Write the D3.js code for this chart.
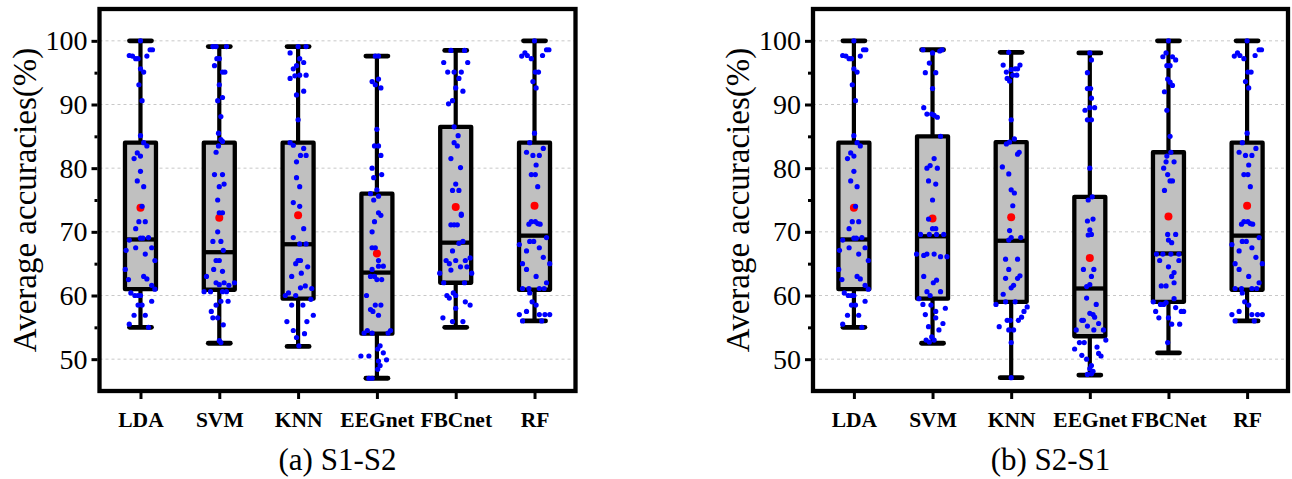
<!DOCTYPE html>
<html>
<head>
<meta charset="utf-8">
<script src="https://cdn.jsdelivr.net/npm/d3@7"></script>
<style>
  html, body { margin: 0; padding: 0; background: #fff; }
  svg { display: block; }
</style>
</head>
<body>
<svg id="chart" width="1292" height="479"></svg>
<script>
// ---------------- DATA ----------------
const catsA = ["LDA", "SVM", "KNN", "EEGnet", "FBCnet", "RF"];
const catsB = ["LDA", "SVM", "KNN", "EEGnet", "FBCNet", "RF"];
const yTicks = [50, 60, 70, 80, 90, 100];
const captionA = "(a) S1-S2";
const captionB = "(b) S2-S1";
const yTitle = "Average accuracies(%)";

// S1-S2 box statistics
const minA    = [55, 52.5, 52, 47, 55, 56];
const q1A     = [61, 60.9, 59.5, 54, 62, 60.9];
const medA    = [68.8, 66.8, 68.05, 63.6, 68.3, 69.4];
const q3A     = [84, 84, 84, 76, 86.5, 84];
const maxA    = [100, 99.1, 99.1, 97.6, 98.5, 100];
const meanA   = [73.8, 72.2, 72.6, 66.6, 73.9, 74.1];

// S2-S1 box statistics
const minB    = [55, 52.5, 47.1, 47.5, 51, 56];
const q1B     = [61, 59.5, 59, 53.6, 59, 60.9];
const medB    = [68.8, 69.3, 68.6, 61.1, 66.6, 69.4];
const q3B     = [84, 85, 84.1, 75.5, 82.5, 84];
const maxB    = [100, 98.6, 98.2, 98.1, 100, 100];
const meanB   = [73.8, 72.1, 72.3, 65.9, 72.4, 74.1];

// individual subject accuracies: [value, jitter (-1..1 of box half-width)]
const ptsA_LDA = [[100,0],[97.7,-0.7],[97.6,-0.5],[97.2,-0.3],[97.2,-0.15],[97.6,0.4],[98.6,0.6],[98.6,0.75],[95.6,0],[95.1,0.2],[93.1,-0.1],[90.6,0.1],[85.1,0],[84,0.2],[83.5,0.4],[82.4,-0.2],[81.9,0],[81.5,-0.4],[79.5,0],[78,-0.2],[77.1,0.2],[74,0.1],[71.6,-0.1],[71.6,0.3],[70.5,-0.3],[68.7,-0.7],[69,0],[69,0.15],[69.1,0.5],[67.5,-0.3],[67.5,0.7],[67.1,-0.9],[66.5,0.3],[65.5,0.9],[64.1,-0.95],[63,0.2],[62.6,0.4],[62.5,-0.75],[61.6,0.7],[61,0.9],[60.4,-0.6],[60,-0.35],[60,-0.15],[60,0],[59.1,0.7],[58.5,-0.15],[58.5,0.1],[56.9,-0.4],[56.9,0.3],[55.5,-0.7],[55,0.5]];
const ptsA_SVM = [[99.1,-0.4],[99.1,-0.2],[99.1,0.45],[97.2,-0.15],[97.2,0],[96.1,-0.3],[95.1,0.2],[95.1,0.35],[93.1,0],[90.6,-0.1],[91.1,0.2],[88.1,0.1],[85.5,-0.05],[84.5,0.1],[84.2,0.2],[83.5,-0.05],[82.5,-0.2],[79,-0.3],[79,0.2],[77.5,0.3],[77.1,0],[75,-0.1],[73,0],[73,0.2],[70,-0.1],[68.5,-0.4],[68.5,0.1],[67.1,0.25],[65.5,-0.2],[65.5,0],[64.1,-0.35],[63,-0.8],[63.8,0.2],[62,-0.2],[61.7,0],[62,0.3],[61.6,0.6],[62,0.95],[60.6,-0.95],[60.6,-0.55],[60.6,0.2],[60.6,0.45],[59.1,0.55],[59.1,0.1],[58.5,-0.2],[57.5,-0.5],[56.5,-0.4],[56.5,-0.1],[55.4,0.25],[52.9,0],[52.6,0.1]];
const ptsA_KNN = [[99.1,0],[99.1,0.5],[98.1,-0.5],[97.2,0.1],[96.6,0.35],[96.1,-0.1],[95.6,-0.3],[94.5,-0.2],[94.1,-0.5],[94.6,0.1],[94.6,0.5],[91.5,-0.1],[92.1,0.35],[87.6,0],[84,-0.5],[83.6,-0.3],[83.1,0.35],[82,0.15],[82,0.5],[81,-0.1],[78.5,-0.1],[77.1,0.1],[74.6,-0.3],[74,0.1],[70.5,0.35],[69.1,-0.3],[68.1,0.1],[68.1,0.5],[65.5,0],[65.5,0.15],[65,-0.15],[64.5,0.6],[63,-0.4],[63.5,0.2],[61.5,0.45],[61.1,0.85],[61.2,0.15],[60.4,-0.6],[60,-0.8],[60,-0.15],[59.4,0.8],[58.5,-0.4],[58.5,0.3],[56.9,0.95],[55.9,-0.7],[55.9,0.55],[54.5,-0.3],[54,0.4],[53.4,-0.1],[52.1,0.05]];
const ptsA_EEG = [[97.6,-0.1],[97.6,0.1],[93.6,-0.3],[94,0.1],[93.1,-0.1],[92.6,0.25],[86.1,0],[83.5,-0.15],[83.5,0.1],[82,0.25],[80,-0.3],[79,0.3],[78.5,-0.2],[76.6,0],[76,-0.4],[75.6,0.1],[75,-0.2],[73,0.1],[72.6,0.25],[71.6,-0.15],[70,-0.3],[67.5,-0.3],[67.5,-0.1],[65.5,0.1],[64.6,0.4],[64.6,0.1],[64.1,-0.3],[63,-0.4],[63,-0.15],[62.5,0.3],[62.5,0],[60,-0.65],[58.5,-0.1],[58.5,0.25],[57.8,-0.4],[57.5,-0.25],[56.9,0.1],[54.5,-0.6],[54.1,-0.8],[54.5,0.85],[54.1,0.7],[54.1,-0.3],[52.1,0.2],[51.6,0.05],[51,0.4],[50.5,-1],[50.5,-0.5],[49.9,0.6],[49.7,0.1],[49,0.2],[48.4,0.05],[47,-0.3],[47,-0.5]];
const ptsA_FBC = [[98.5,-0.3],[98.5,0.55],[96.6,-0.75],[96.6,0.75],[95.1,-0.5],[95.1,-0.1],[95.1,0.35],[94.1,0.2],[92.6,0],[92.1,0.45],[90.1,-0.45],[90.6,-0.2],[86.5,-0.1],[85.1,0.15],[84,-0.1],[83.5,0.1],[81.5,-0.3],[80.1,0.3],[77.5,0],[76.5,-0.2],[76.5,0.2],[72.8,0.35],[72.6,0.35],[71.1,-0.3],[71.1,-0.1],[71.1,0.1],[68.5,0.45],[68.2,0.2],[67,-0.2],[65.5,-0.6],[65.5,0],[65.5,0.6],[65.9,0.9],[65,-0.4],[64.5,0.3],[64.5,0.7],[64,-0.3],[63.5,-1],[63.5,1],[62,-0.75],[62,0.55],[60,0],[60,-0.55],[59.6,-0.4],[60.4,-0.15],[59,0.6],[58.5,0.9],[58,0],[56.5,-0.8],[55.9,-0.2],[55.9,0.45]];
const ptsA_RF = [[100,0],[97.6,-0.8],[98.1,-0.6],[97.7,-0.45],[97.2,-0.2],[97.7,0.5],[98.6,0.75],[98.6,0.9],[95.1,0.05],[95.1,0.25],[93.6,-0.1],[92.6,0.1],[85.5,0],[84,-0.3],[82.5,-0.5],[82,-0.1],[82,0.3],[83.1,0.55],[80.5,0.1],[79,-0.2],[79,0.05],[77.1,0.2],[71.6,-0.2],[71.6,0.05],[71.3,0.2],[71.2,-0.35],[71.2,0.35],[68.5,-0.3],[68.5,-0.05],[68,-0.95],[69.1,0.75],[67.5,0.3],[67,-0.5],[66,0.55],[65,-0.75],[65,0.95],[64.1,-0.5],[63,0.1],[62,0.75],[61.1,-0.75],[61.1,-0.35],[61.1,0.3],[61.1,0.6],[60.4,-0.3],[59,-0.15],[58.5,0.1],[57.5,-0.5],[57,-0.95],[57,0.3],[57,0.65],[57,0.95],[56,-0.75],[56,0.45]];

const ptsB_LDA = ptsA_LDA;
const ptsB_SVM = [[98.6,-0.6],[98.1,0],[98.4,0.45],[98.6,0.6],[96.5,-0.2],[95,-0.45],[95,0.2],[92.5,0],[89.5,-0.55],[88.5,-0.35],[88.5,-0.05],[88.3,0.1],[88,0.3],[85,0.5],[81.5,0.1],[80,-0.35],[80.4,-0.15],[80,0.3],[78,-0.25],[77.5,0.2],[75,0],[72,-0.25],[70.5,0],[70.5,0.2],[69.6,-0.75],[69.6,-0.2],[69.6,0.25],[69.6,0.7],[66.5,-1],[66.3,-0.55],[66.5,-0.35],[66.5,0.1],[66.1,0.5],[66.1,0.9],[63,-0.55],[62,0.05],[62.4,0.25],[60.6,-0.35],[60,-0.15],[60.6,0.5],[59.5,-0.85],[58.6,-0.6],[58.5,-0.1],[57.5,0.2],[58,0.8],[57,-0.45],[56.5,0.2],[55.6,0.65],[55.1,-0.25],[54.6,0.4],[53.5,-0.05],[53,-0.4],[52.7,-0.2],[53,0.1]];
const ptsB_KNN = [[98.2,-0.15],[96.2,-0.5],[95.5,0],[95.6,0.25],[96.2,0.55],[95.6,0.4],[95.1,-0.3],[94.6,0.1],[94.6,0.35],[94.1,-0.25],[93.7,-0.1],[87.6,0],[83.8,-0.3],[84.1,-0.1],[84.6,0.2],[82.2,0.4],[82.5,0.5],[80.2,-0.55],[79.1,-0.15],[76.6,0],[76.1,0.2],[74.1,0.1],[70.2,-0.1],[69.1,0],[68.7,-0.15],[69.1,0.6],[65.7,-0.35],[65.7,0.4],[64.1,-0.15],[62.7,-0.35],[63.1,0.55],[62.7,0.4],[61.6,0.15],[61.2,0],[60.2,-0.5],[58.6,-0.95],[59,-0.35],[59,0.25],[58.2,1],[57.5,0.8],[56.6,0.65],[56.1,0.45],[56.1,-0.25],[56.1,-0.05],[55.1,-0.75],[54.6,-0.15],[54.6,0.15],[52.6,0],[47.1,0]];
const ptsB_EEG = [[98.1,0],[97,0.1],[95,-0.15],[92.5,-0.15],[92.5,0.05],[91,0.1],[89.1,-0.3],[89.5,0],[89.5,0.3],[87.6,-0.15],[87.6,0.1],[80,0],[75,-0.1],[75.5,0.15],[71.7,-0.15],[72,0.2],[70.3,0],[69.5,-0.1],[69.6,0.1],[64.1,-0.4],[64.1,0.25],[63,0.1],[61.7,0],[61.4,-0.2],[58.6,0.4],[59.6,-0.2],[57.2,0],[57,0.2],[56.6,0.3],[56.1,-0.4],[56.1,-0.5],[55.6,0.55],[55.2,-0.15],[54.6,-0.85],[54.6,0.25],[54.6,0.85],[53,1],[52.6,-0.65],[52.6,-0.35],[51.9,0.45],[51.6,-0.95],[50.6,-0.5],[50.9,0.55],[50.5,0.7],[50,-0.2],[49,0.1],[48.5,0],[48.1,0.2],[47.6,-0.15],[47.7,0.1]];
const ptsB_FBC = [[100,0],[97.5,-0.35],[98.1,-0.15],[97.5,0.25],[97,0.45],[96.1,-0.1],[96.1,0.1],[94,-0.05],[93.5,0.1],[93,0.25],[92,-0.25],[89.1,-0.1],[85,0.1],[82.5,0.15],[81.9,-0.1],[81,-0.15],[81,0.35],[80,-0.3],[79,-0.05],[78,0.1],[78,0.25],[76.5,-0.25],[69.6,-0.05],[69.6,0.45],[68.7,0],[68.3,0.2],[66.5,-0.75],[66.5,-0.35],[66.5,0.15],[66.5,0.65],[65.5,-0.55],[65.5,0.65],[64.5,0],[63.6,0.35],[63,0.2],[62,0.35],[61.5,-0.45],[61.5,-0.15],[59.5,0.35],[59,-0.95],[58.6,-0.5],[58.6,-0.3],[58.9,-0.15],[58.1,0.45],[57.5,0.8],[57.5,0.95],[57.5,-0.8],[56.5,-0.6],[56.5,0],[55.5,0.2],[55.5,0.7],[52.6,-0.05]];
const ptsB_RF = ptsA_RF;

// ---------------- DRAW ----------------
const svg = d3.select("#chart");
svg.append("rect").attr("width", 1292).attr("height", 479).attr("fill", "#fff");

const serif = "Liberation Serif, Times New Roman, DejaVu Serif, serif";

const panels = [
  { cats: catsA, min: minA, q1: q1A, med: medA, q3: q3A, max: maxA, mean: meanA,
    pts: [ptsA_LDA, ptsA_SVM, ptsA_KNN, ptsA_EEG, ptsA_FBC, ptsA_RF],
    caption: captionA, x0: 99.5, x1: 575.5 },
  { cats: catsB, min: minB, q1: q1B, med: medB, q3: q3B, max: maxB, mean: meanB,
    pts: [ptsB_LDA, ptsB_SVM, ptsB_KNN, ptsB_EEG, ptsB_FBC, ptsB_RF],
    caption: captionB, x0: 813, x1: 1288 }
];

const plotTop = 9, plotBottom = 391;
const y = d3.scaleLinear().domain([45, 105]).range([plotBottom, plotTop]);
const jit = d3.scaleLinear().domain([-1, 1]).range([-16, 16]);
const boxHalf = 15.5, capHalf = 11;

panels.forEach(p => {
  const g = svg.append("g");
  const x = d3.scalePoint().domain(p.cats).range([p.x0, p.x1]).padding(0.52);

  // grid
  g.append("g").selectAll("line").data(yTicks).join("line")
    .attr("x1", p.x0).attr("x2", p.x1)
    .attr("y1", d => y(d)).attr("y2", d => y(d))
    .attr("stroke", "#c8c8c8").attr("stroke-width", 1).attr("stroke-dasharray", "3,3");

  // boxes
  p.cats.forEach((c, i) => {
    const xc = x(c);
    const bg = g.append("g");
    bg.append("line").attr("x1", xc).attr("x2", xc).attr("y1", y(p.max[i])).attr("y2", y(p.q3[i]))
      .attr("stroke", "#000").attr("stroke-width", 4.2);
    bg.append("line").attr("x1", xc).attr("x2", xc).attr("y1", y(p.q1[i])).attr("y2", y(p.min[i]))
      .attr("stroke", "#000").attr("stroke-width", 4.2);
    [p.max[i], p.min[i]].forEach(v => {
      bg.append("line").attr("x1", xc - capHalf).attr("x2", xc + capHalf).attr("y1", y(v)).attr("y2", y(v))
        .attr("stroke", "#000").attr("stroke-width", 4.8).attr("stroke-linecap", "round");
    });
    bg.append("rect").attr("x", xc - boxHalf).attr("width", boxHalf * 2)
      .attr("y", y(p.q3[i])).attr("height", y(p.q1[i]) - y(p.q3[i]))
      .attr("fill", "#c0c0c0").attr("stroke", "#000").attr("stroke-width", 4.3).attr("stroke-linejoin", "round");
    bg.append("line").attr("x1", xc - boxHalf).attr("x2", xc + boxHalf).attr("y1", y(p.med[i])).attr("y2", y(p.med[i]))
      .attr("stroke", "#000").attr("stroke-width", 4.3);
    // mean
    bg.append("circle").attr("cx", xc).attr("cy", y(p.mean[i])).attr("r", 4).attr("fill", "#ff0000");
    // points
    bg.selectAll("circle.pt").data(p.pts[i]).join("circle").attr("class", "pt")
      .attr("cx", d => xc + jit(d[1])).attr("cy", d => y(d[0])).attr("r", 2.6).attr("fill", "#0000ff");
  });

  // frame
  g.append("rect").attr("x", p.x0).attr("y", plotTop).attr("width", p.x1 - p.x0).attr("height", plotBottom - plotTop)
    .attr("fill", "none").attr("stroke", "#000").attr("stroke-width", 4.3);

  // y axis (major)
  const ya = g.append("g").attr("transform", `translate(${p.x0 - 2},0)`)
    .call(d3.axisLeft(y).tickValues(yTicks).tickSize(6).tickPadding(4).tickFormat(d3.format("d")));
  ya.select(".domain").remove();
  ya.selectAll(".tick line").attr("stroke", "#000").attr("stroke-width", 3);
  ya.selectAll(".tick text").style("font-family", serif).attr("font-size", 28).attr("fill", "#000");
  // y axis minor
  const ym = g.append("g").attr("transform", `translate(${p.x0 - 2},0)`)
    .call(d3.axisLeft(y).tickValues([55, 65, 75, 85, 95]).tickSize(3).tickFormat(""));
  ym.select(".domain").remove();
  ym.selectAll(".tick line").attr("stroke", "#000").attr("stroke-width", 3);

  // x axis
  const xa = g.append("g").attr("transform", `translate(0,${plotBottom + 2})`)
    .call(d3.axisBottom(x).tickSize(6));
  xa.select(".domain").remove();
  xa.selectAll(".tick line").attr("stroke", "#000").attr("stroke-width", 3);
  xa.selectAll(".tick text").attr("y", 34).attr("dy", 0)
    .style("font-family", serif).attr("font-weight", "bold").attr("font-size", 21.5).attr("fill", "#000");

  // y title
  g.append("text")
    .attr("transform", `translate(${p.x0 - 64},${(plotTop + plotBottom) / 2}) rotate(-90)`)
    .attr("text-anchor", "middle").style("font-family", serif).attr("font-size", 33).attr("fill", "#000")
    .text(yTitle);

  // caption
  g.append("text").attr("x", (p.x0 + p.x1) / 2).attr("y", 470)
    .attr("text-anchor", "middle").style("font-family", serif).attr("font-size", 31).attr("fill", "#000")
    .text(p.caption);
});
</script>
</body>
</html>
